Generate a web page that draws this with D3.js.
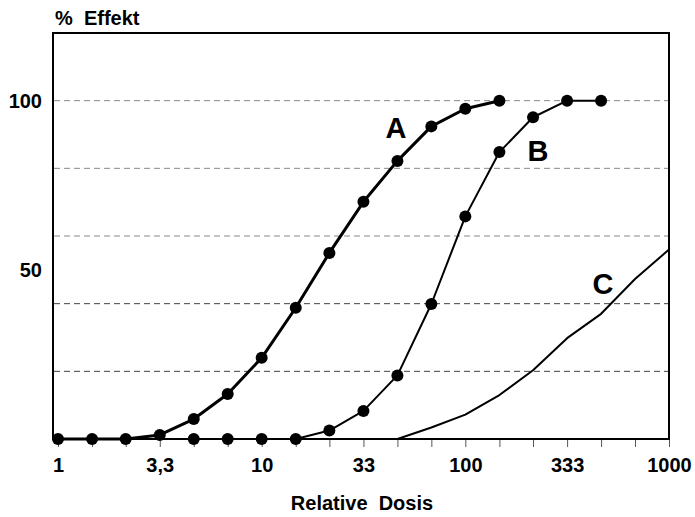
<!DOCTYPE html>
<html>
<head>
<meta charset="utf-8">
<script src="https://cdn.jsdelivr.net/npm/d3@7/dist/d3.min.js"></script>
<style>
  body { margin: 0; background: #fff; }
  text { font-family: "Liberation Sans", Arial, sans-serif; font-weight: bold; fill: #000; }
</style>
</head>
<body>
<svg id="chart" width="695" height="517"></svg>
<script>
// dose steps, 1/6 decade apart
var doses = [1, 1.47, 2.15, 3.16, 4.64, 6.81, 10, 14.7, 21.5, 31.6, 46.4, 68.1, 100, 147, 215, 316, 464, 681, 1000];
var doseLabels = ["1", "3,3", "10", "33", "100", "333", "1000"];

// % Effekt per dose step (null = not measured)
var seriesA = [0, 0, 0, 1.2, 5.9, 13.3, 24, 38.8, 55, 70.1, 82.2, 92.4, 97.6, 100];
var seriesB = [null, null, null, null, 0, 0, 0, 0, 2.5, 8.3, 18.8, 39.9, 65.8, 84.8, 95.1, 100, 100];
var seriesC = [null, null, null, null, null, null, null, 0, 0, 0, 0, 3.4, 7.2, 13, 20.3, 29.8, 37, 47.3, 56];

var gridValues = [20, 40, 60, 80, 100];
var yLabels = [50, 100];

var svg = d3.select("#chart");

var x = d3.scaleLog().domain([1, 1000]).range([58, 669]);
var y = d3.scaleLinear().domain([0, 120]).range([439, 33]);

// dashed grid
svg.selectAll(".grid")
  .data(gridValues)
  .enter().append("line")
    .attr("class", "grid")
    .attr("x1", 54).attr("x2", 668)
    .attr("y1", function (d) { return y(d); })
    .attr("y2", function (d) { return y(d); })
    .style("stroke", function (d) { return d <= 40 ? "#444" : "#888"; })
    .style("stroke-width", 1)
    .style("stroke-dasharray", "6,4");

// x axis ticks + labels
var xAxis = d3.axisBottom(x)
  .tickValues(doses)
  .tickSize(8)
  .tickPadding(11)
  .tickFormat(function (d, i) { return i % 3 === 0 ? doseLabels[i / 3] : ""; });

var gx = svg.append("g")
  .attr("transform", "translate(0," + y(0) + ")")
  .call(xAxis);
gx.select(".domain").remove();
gx.selectAll(".tick line").style("stroke", "#555");
gx.selectAll(".tick text").style("font-size", "20px").style("font-family", null);

// y labels
svg.selectAll(".ylab")
  .data(yLabels)
  .enter().append("text")
    .attr("class", "ylab")
    .attr("x", 42)
    .attr("y", function (d) { return y(d); })
    .attr("dy", "0.35em")
    .style("text-anchor", "end")
    .style("font-size", "20px")
    .text(function (d) { return d; });

// frame
svg.append("rect")
  .attr("x", 53).attr("y", y(120))
  .attr("width", x(1000) - 53)
  .attr("height", y(0) - y(120))
  .style("fill", "none")
  .style("stroke", "#000")
  .style("stroke-width", 2);

var line = d3.line()
  .defined(function (d) { return d !== null; })
  .x(function (d, i) { return x(doses[i]); })
  .y(function (d) { return y(d); });

var series = [
  {name: "C", values: seriesC, width: 2, dots: false},
  {name: "B", values: seriesB, width: 2, dots: true},
  {name: "A", values: seriesA, width: 3, dots: true}
];

series.forEach(function (s) {
  svg.append("path")
    .datum(s.values)
    .attr("d", line)
    .style("fill", "none")
    .style("stroke", "#000")
    .style("stroke-width", s.width)
    .style("stroke-linejoin", "round");

  if (s.dots) {
    var pts = s.values.map(function (v, i) { return {v: v, i: i}; })
      .filter(function (p) { return p.v !== null; });
    svg.selectAll(".dot" + s.name)
      .data(pts)
      .enter().append("circle")
        .attr("class", "dot" + s.name)
        .attr("cx", function (p) { return x(doses[p.i]); })
        .attr("cy", function (p) { return y(p.v); })
        .attr("r", 6)
        .style("fill", "#000");
  }
});

// curve letters
var curveLabels = [
  {t: "A", x: 396, y: 138},
  {t: "B", x: 538, y: 161},
  {t: "C", x: 603, y: 294}
];
svg.selectAll(".clab")
  .data(curveLabels)
  .enter().append("text")
    .attr("class", "clab")
    .attr("x", function (d) { return d.x; })
    .attr("y", function (d) { return d.y; })
    .style("text-anchor", "middle")
    .style("font-size", "29px")
    .text(function (d) { return d.t; });

// titles
svg.append("text")
  .attr("x", 55).attr("y", 24.5)
  .style("font-size", "20px")
  .style("white-space", "pre")
  .text("%\u00a0\u00a0Effekt");

svg.append("text")
  .attr("x", 362).attr("y", 510)
  .style("text-anchor", "middle")
  .style("font-size", "20px")
  .text("Relative\u00a0\u00a0Dosis");
</script>
</body>
</html>
